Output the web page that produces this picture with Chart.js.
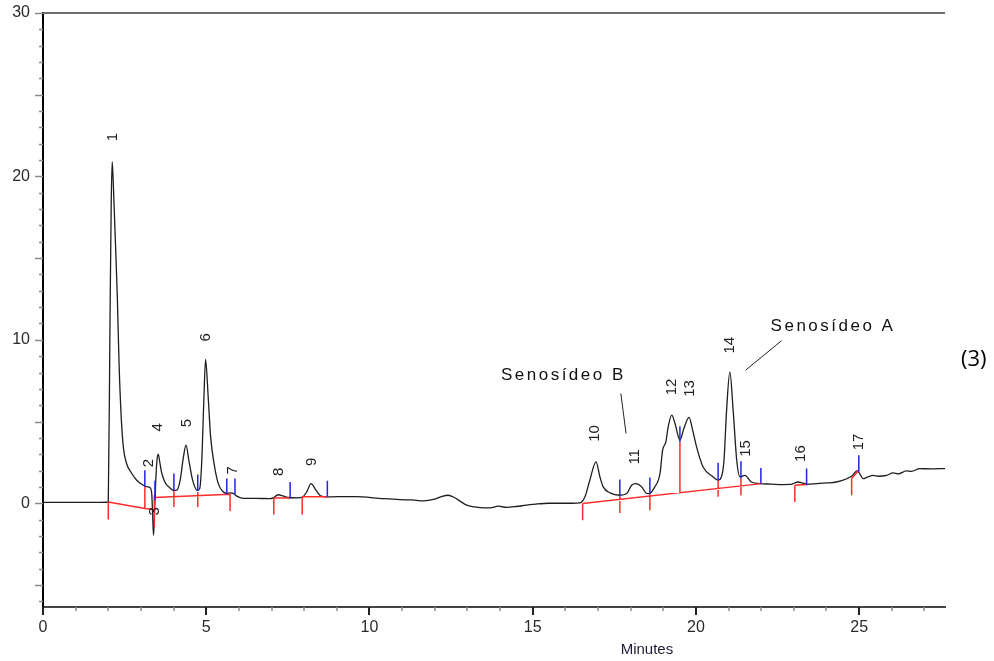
<!DOCTYPE html>
<html>
<head>
<meta charset="utf-8">
<script src="https://cdn.jsdelivr.net/npm/chart.js@4.4.1/dist/chart.umd.min.js"></script>
<style>
  html, body { margin: 0; padding: 0; background: #fff; }
  canvas { display: block; }
</style>
</head>
<body>
<canvas id="chrom" width="994" height="661"></canvas>
<script>
// chromatogram trace: [minutes, signal]
const trace = [
  [0,0.05],[0.8,0.05],[1.5,0.05],[1.97,0.06],[2.0,0.1],[2.05,10.6],[2.09,18.4],[2.12,20.9],
  [2.16,19.2],[2.205,16.7],[2.277,12.6],[2.33,8.55],[2.39,5.5],[2.46,3.45],[2.56,2.43],[2.72,1.82],
  [2.87,1.41],[3.07,1.1],[3.2,1.0],[3.28,0.95],[3.33,0.6],[3.36,-0.8],[3.385,-1.96],[3.41,-1.0],
  [3.45,1.2],[3.49,2.6],[3.53,3.0],[3.57,2.6],[3.63,1.9],[3.7,1.45],[3.76,1.2],[3.88,0.95],
  [4.0,0.78],[4.1,0.8],[4.2,1.4],[4.3,2.8],[4.38,3.55],[4.47,2.6],[4.585,1.4],[4.726,0.78],
  [4.8,0.9],[4.86,2.43],[4.93,6.5],[4.98,8.8],[5.06,6.5],[5.135,4.06],[5.24,2.43],[5.37,1.2],
  [5.52,0.7],[5.63,0.6],[5.75,0.63],[5.83,0.6],[5.95,0.42],[6.14,0.3],[6.5,0.3],[6.95,0.28],
  [7.05,0.33],[7.2,0.52],[7.35,0.45],[7.5,0.35],[7.8,0.33],[7.95,0.38],[8.08,0.7],[8.21,1.2],
  [8.36,0.8],[8.5,0.45],[8.69,0.39],[9.0,0.4],[9.6,0.4],[10.3,0.3],[10.93,0.22],[11.3,0.2],
  [11.65,0.14],[12.0,0.25],[12.2,0.4],[12.41,0.49],[12.6,0.35],[12.8,0.1],[12.98,-0.12],[13.2,-0.22],
  [13.49,-0.29],[13.7,-0.28],[13.95,-0.18],[14.2,-0.25],[14.5,-0.2],[14.8,-0.12],[15.1,-0.05],[15.5,0.0],
  [15.83,0.0],[16.2,0.0],[16.45,0.02],[16.6,0.39],[16.75,1.41],[16.94,2.53],[17.06,1.61],[17.16,1.0],
  [17.37,0.63],[17.67,0.49],[17.88,0.59],[18.03,1.1],[18.16,1.2],[18.34,1.0],[18.47,0.63],[18.57,0.59],
  [18.74,1.0],[18.9,1.82],[18.98,3.25],[19.08,3.75],[19.15,4.67],[19.26,5.39],[19.36,4.88],[19.51,3.86],
  [19.63,4.57],[19.79,5.25],[19.9,4.47],[20.02,3.45],[20.22,2.22],[20.53,1.61],[20.68,1.41],[20.78,1.6],
  [20.86,2.63],[20.94,5.7],[21.04,8.04],[21.14,5.7],[21.25,2.63],[21.35,1.61],[21.5,1.71],[21.7,1.3],
  [21.96,1.2],[22.3,1.17],[22.67,1.14],[22.9,1.15],[23.13,1.3],[23.25,1.25],[23.39,1.16],[23.7,1.2],
  [24.0,1.24],[24.3,1.3],[24.62,1.5],[24.8,1.7],[24.94,2.0],[25.05,1.7],[25.12,1.5],[25.25,1.6],
  [25.43,1.7],[25.6,1.65],[25.84,1.7],[26.04,1.86],[26.2,1.8],[26.45,1.98],[26.6,1.95],[26.86,2.12],
  [27.2,2.1],[27.63,2.12]
];

// integration baselines (red): [t0, v0, t1, v1]
const baselines = [
  [2.0,0.08,3.12,-0.32],[3.12,-0.32,3.41,-0.38],[3.41,0.35,5.73,0.55],
  [7.07,0.32,7.57,0.32],[7.94,0.39,8.71,0.39],[16.53,-0.02,22.01,1.2],
  [23.03,1.1,23.39,1.15],[24.77,1.51,24.99,2.02]
];
// peak start/end marks: [t, vTop, vBottom]
const redMarks = [
  [2.0,0.08,-1.0],[3.12,1.0,-0.32],[3.41,0.49,-1.45],[4.01,0.8,-0.23],[4.74,0.69,-0.23],
  [5.73,0.59,-0.47],[7.07,0.32,-0.69],[7.94,0.39,-0.69],[16.53,-0.02,-1.04],[17.67,0.39,-0.59],
  [18.59,0.55,-0.43],[19.51,3.75,0.63],[20.68,1.41,0.39],[21.38,1.53,0.49],[23.03,1.1,0.08],
  [24.77,1.51,0.49]
];
const blueMarks = [
  [3.12,2.02,1.0],[3.43,1.37,0.18],[4.01,1.82,0.75],[4.74,1.76,0.75],[5.63,1.51,0.55],
  [5.88,1.51,0.55],[7.57,1.3,0.29],[8.71,1.37,0.39],[17.67,1.45,0.39],[18.59,1.57,0.55],
  [19.51,4.71,3.75],[20.68,2.47,1.41],[21.38,2.57,1.51],[21.99,2.16,1.2],[23.39,2.12,1.1],
  [24.99,2.94,1.92]
];

// peak numbers
const peakNames = ['1','2','3','4','5','6','7','8','9','10','11','12','13','14','15','16','17'];
const peakTimes = [2.14,3.23,3.43,3.53,4.4,4.99,5.83,7.21,8.23,16.91,18.13,19.26,19.82,21.04,21.53,23.21,24.99];
const peakLabelAt = [22.41,2.45,-0.49,4.65,4.9,10.16,2.02,1.92,2.53,4.27,2.84,7.12,7.02,9.67,3.35,3.04,3.75];

// compound annotations: [text, t, v, pointer t0, v0, t1, v1]
const compounds = [
  ['Senosídeo B', 15.94, 7.84, 17.70, 6.72, 17.86, 4.27],
  ['Senosídeo A', 24.2, 10.84, 22.62, 9.94, 21.52, 8.14]
];

const xLabels = [0, 5, 10, 15, 20, 25];
const yLabels = [0, 10, 20, 30];

function toSegments(list, vertical) {
  const pts = [];
  list.forEach(s => {
    if (vertical) {
      pts.push({x: s[0], y: s[1]}, {x: s[0], y: s[2]}, {x: s[0], y: null});
    } else {
      pts.push({x: s[0], y: s[1]}, {x: s[2], y: s[3]}, {x: s[2], y: null});
    }
  });
  return pts;
}

const decor = {
  id: 'decor',
  afterDraw(chart) {
    const {ctx, chartArea: a, scales: {x, y}} = chart;
    ctx.save();
    // top frame line
    ctx.strokeStyle = '#6e6e6e';
    ctx.lineWidth = 2;
    ctx.beginPath(); ctx.moveTo(a.left, a.top); ctx.lineTo(a.right, a.top); ctx.stroke();

    // y ticks every 1, longer every 5
    ctx.strokeStyle = '#8a8a8a';
    ctx.lineWidth = 1.5;
    for (let v = -6; v <= 30; v++) {
      const py = Math.round(y.getPixelForValue(v)) + 0.5;
      const len = v % 5 === 0 ? 8 : 4;
      ctx.beginPath(); ctx.moveTo(a.left - len, py); ctx.lineTo(a.left, py); ctx.stroke();
    }
    // x ticks
    for (let t = 0; t <= 27; t++) {
      const px = Math.round(x.getPixelForValue(t));
      const major = t % 5 === 0;
      ctx.strokeStyle = major ? '#222' : '#8a8a8a';
      ctx.lineWidth = major ? 2 : 1.5;
      ctx.beginPath(); ctx.moveTo(px, a.bottom); ctx.lineTo(px, a.bottom + (major ? 8 : 4)); ctx.stroke();
    }

    // peak numbers, rotated
    ctx.fillStyle = '#222';
    ctx.font = '15px "Liberation Sans", Arial, sans-serif';
    ctx.textAlign = 'center';
    ctx.textBaseline = 'middle';
    peakNames.forEach((n, i) => {
      ctx.save();
      ctx.translate(x.getPixelForValue(peakTimes[i]), y.getPixelForValue(peakLabelAt[i]));
      ctx.rotate(-Math.PI / 2);
      ctx.fillText(n, 0, 0);
      ctx.restore();
    });

    // compound names and pointers
    ctx.font = '17px "Liberation Sans", Arial, sans-serif';
    ctx.fillStyle = '#111';
    ctx.letterSpacing = '2.5px';
    ctx.strokeStyle = '#222';
    ctx.lineWidth = 1;
    compounds.forEach(c => {
      ctx.fillText(c[0], x.getPixelForValue(c[1]), y.getPixelForValue(c[2]));
      ctx.beginPath();
      ctx.moveTo(x.getPixelForValue(c[3]), y.getPixelForValue(c[4]));
      ctx.lineTo(x.getPixelForValue(c[5]), y.getPixelForValue(c[6]));
      ctx.stroke();
    });
    ctx.letterSpacing = '0px';

    // axis title and panel tag
    ctx.font = '15px "Liberation Sans", Arial, sans-serif';
    ctx.fillStyle = '#1c1c3a';
    ctx.fillText('Minutes', x.getPixelForValue(18.5), a.bottom + 43);
    ctx.font = '22px "Open Sans", sans-serif';
    ctx.fillStyle = '#000';
    ctx.fillText('(3)', x.getPixelForValue(28.51), y.getPixelForValue(8.76));
    ctx.restore();
  }
};

new Chart(document.getElementById('chrom'), {
  type: 'line',
  data: {
    datasets: [{
      label: 'trace',
      data: trace.map(p => ({x: p[0], y: p[1]})),
      borderColor: '#1e1e1e',
      borderWidth: 1.3,
      pointRadius: 0,
      cubicInterpolationMode: 'monotone',
      order: 2
    }, {
      label: 'baseline',
      data: toSegments(baselines, false).concat(toSegments(redMarks, true)),
      borderColor: '#ff2b2b',
      borderWidth: 1.5,
      pointRadius: 0,
      spanGaps: false,
      order: 1
    }, {
      label: 'marks',
      data: toSegments(blueMarks, true),
      borderColor: '#2323e8',
      borderWidth: 1.5,
      pointRadius: 0,
      spanGaps: false,
      order: 0
    }]
  },
  options: {
    responsive: false,
    animation: false,
    devicePixelRatio: 1,
    layout: { padding: { top: 13, right: 49, left: 0, bottom: 0 } },
    plugins: { legend: { display: false }, tooltip: { enabled: false } },
    scales: {
      x: {
        type: 'linear',
        min: 0,
        max: 27.63,
        afterFit: s => { s.height = 54; },
        afterBuildTicks: s => { s.ticks = xLabels.map(v => ({value: v})); },
        grid: { display: false, drawTicks: true, tickLength: 11 },
        border: { display: true, color: '#444', width: 2 },
        ticks: { padding: 0, color: '#2a2a2a', font: { family: '"Liberation Sans", Arial, sans-serif', size: 16 } }
      },
      y: {
        min: -6.35,
        max: 30,
        afterFit: s => { s.width = 43; },
        afterBuildTicks: s => { s.ticks = yLabels.map(v => ({value: v})); },
        grid: { display: false, drawTicks: true, tickLength: 13 },
        border: { display: true, color: '#000', width: 2 },
        ticks: { padding: 0, color: '#2a2a2a', font: { family: '"Liberation Sans", Arial, sans-serif', size: 16 } }
      }
    }
  },
  plugins: [decor]
});
</script>
</body>
</html>
